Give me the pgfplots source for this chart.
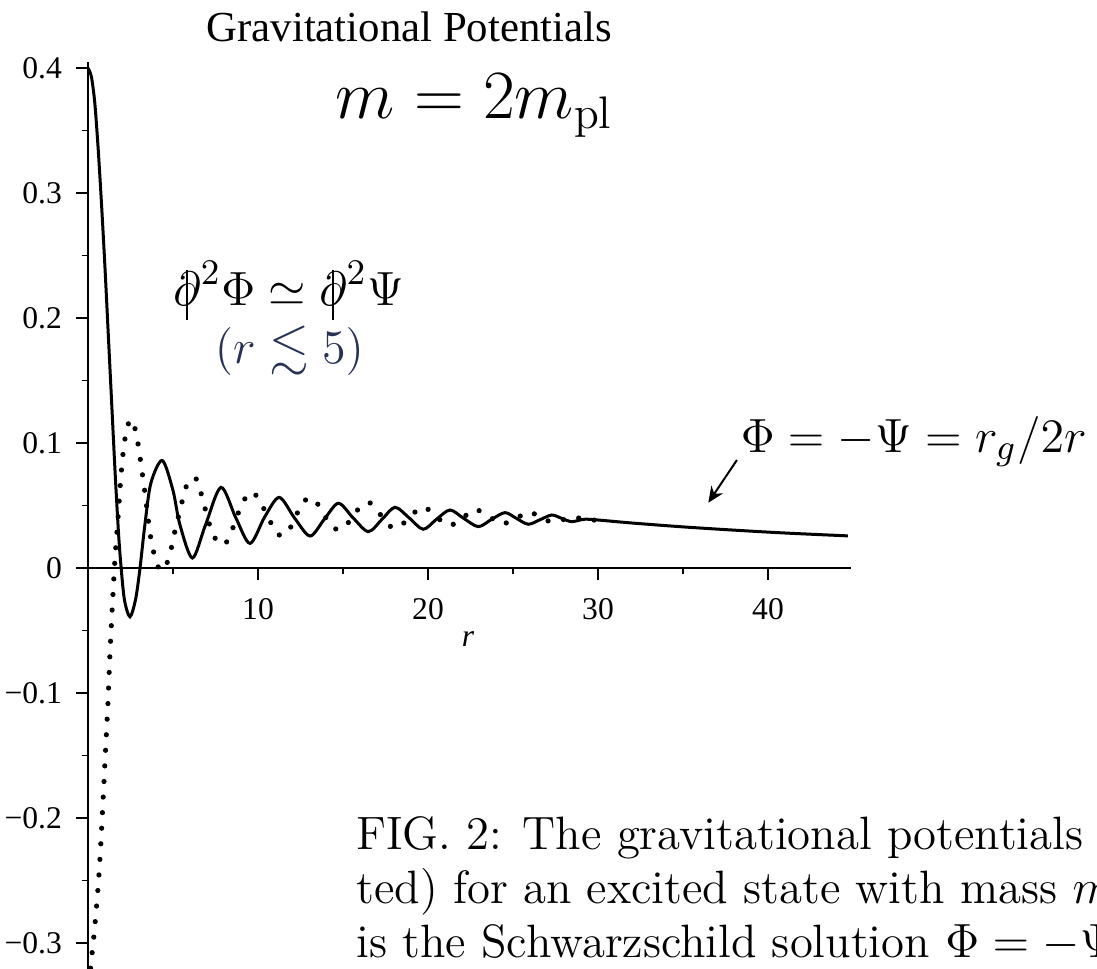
\documentclass[border=0pt]{standalone}
\usepackage{pgfplots}
\pgfplotsset{compat=1.18}
\usetikzlibrary{arrows.meta}
\usepackage{amssymb}
\usepackage{fontspec}
\newfontfamily\timesfont{Liberation Serif}
\definecolor{slate}{RGB}{40,50,85}
\newcommand{\dslash}{\mathord{\ooalign{$\partial$\cr\hidewidth\rule[-0.3em]{0.045em}{0.98em}\hidewidth\cr}}}
\begin{document}
\begin{tikzpicture}
\useasboundingbox (-22pt,-100pt) rectangle (252.25pt,142pt);
\begin{axis}[
  anchor=origin, at={(0pt,0pt)},
  x=4.25pt, y=312.5pt,
  xmin=0, xmax=44.9, ymin=-0.335, ymax=0.405,
  axis lines=middle,
  axis line style={-, line width=0.5pt},
  clip=false,
  hide obscured y ticks=false,
  hide obscured x ticks=false,
  tick align=outside,
  major tick length=3pt, minor tick length=1.6pt,
  tick style={line width=0.45pt, black},
  xtick={10,20,30,40},
  xticklabels={10,20,30,40},
  minor xtick={5,15,25,35},
  ytick={-0.3,-0.2,-0.1,0,0.1,0.2,0.3,0.4},
  yticklabels={−0.3,−0.2,−0.1,0,0.1,0.2,0.3,0.4},
  minor ytick={-0.25,-0.15,-0.05,0.05,0.15,0.25,0.35},
  ticklabel style={font=\timesfont\fontsize{7.9}{9}\selectfont},
  xticklabel style={yshift=-1pt},
]
% solid: Phi
\addplot[black, line width=0.75pt, smooth] coordinates {
(0,0.400)(0.2,0.393)(0.4,0.372)(0.6,0.335)(0.8,0.29)(1.0,0.24)(1.2,0.185)(1.4,0.13)(1.6,0.075)(1.8,0.027)(1.95,0.0)(2.15,-0.026)(2.47,-0.039)(2.8,-0.025)(3.06,0.0)(3.35,0.035)(3.7,0.068)(4.37,0.086)(5.0,0.062)(5.4,0.035)(6.14,0.008)(6.9,0.034)(7.82,0.0645)(8.7,0.04)(9.53,0.0197)(10.4,0.041)(11.25,0.0565)(12.15,0.04)(13.06,0.0256)(13.9,0.039)(14.73,0.0518)(15.6,0.04)(16.49,0.0291)(17.3,0.039)(18.06,0.0486)(18.9,0.04)(19.72,0.031)(20.5,0.039)(21.29,0.0464)(22.1,0.0397)(22.96,0.0331)(23.75,0.039)(24.53,0.0443)(25.2,0.0397)(25.9,0.035)(26.6,0.0387)(27.28,0.0424)(27.85,0.0398)(28.45,0.0371)(29.2,0.039)(30,0.0384)(32,0.036)(35,0.0329)(38,0.0303)(41,0.028)(44.7,0.0257)
};
% dotted: Psi
\addplot[black, line width=1.3pt, line cap=round, dash pattern=on 0pt off 3.9pt, smooth] coordinates {
(0.0,-0.345)(0.16,-0.319)(0.35,-0.294)(0.59,-0.256)(0.76,-0.219)(0.9,-0.182)(1.04,-0.144)(1.18,-0.106)(1.29,-0.069)(1.43,-0.031)(1.59,0.008)(1.75,0.037)(1.92,0.07)(2.08,0.094)(2.25,0.109)(2.51,0.119)(2.82,0.109)(2.98,0.096)(3.12,0.083)(3.35,0.06)(3.59,0.034)(3.8,0.016)(4.24,-0.002)(4.68,0.005)(4.92,0.017)(5.12,0.03)(5.41,0.046)(5.8,0.066)(6.29,0.0725)(6.6,0.062)(6.88,0.048)(7.12,0.036)(7.41,0.025)(8.0,0.0184)(8.45,0.0296)(9.08,0.052)(9.67,0.061)(10.18,0.0512)(10.6,0.041)(11.0,0.029)(11.35,0.026)(11.72,0.028)(12.18,0.0398)(12.56,0.0512)(13.0,0.056)(13.35,0.0544)(13.84,0.0437)(14.33,0.033)(14.7,0.031)(15.12,0.0325)(15.6,0.0424)(16.25,0.0517)(16.6,0.052)(16.98,0.047)(17.57,0.0357)(18.0,0.032)(18.35,0.033)(18.98,0.0416)(19.72,0.049)(20.45,0.0416)(21.2,0.0339)(21.98,0.039)(22.7,0.047)(23.55,0.0418)(24.28,0.0352)(25.1,0.039)(25.96,0.045)(26.75,0.039)(27.45,0.0372)(28.55,0.0405)(29.3,0.0386)(30,0.0383)
};
\node[font=\timesfont\fontsize{10.7}{12}\selectfont] at (axis cs:18.9,0.433) {Gravitational Potentials};
\node[font=\timesfont\itshape\fontsize{7.9}{9}\selectfont] at (axis cs:22.35,-0.057) {r};
\node[anchor=base west, inner sep=0pt, font=\fontsize{16.3}{19}\selectfont] at (axis cs:14.53,0.36) {$m=2m_{\rm pl}$};
\node[anchor=base, inner sep=0pt, font=\fontsize{12.8}{15}\selectfont] at (axis cs:11.8,0.2104) {$\dslash^2\Phi\simeq\dslash^2\Psi$};
\node[anchor=base, inner sep=0pt, text=slate, font=\fontsize{12.8}{15}\selectfont] at (axis cs:11.85,0.164) {$(r\lesssim5)$};
\node[anchor=base west, inner sep=0pt, font=\fontsize{12.8}{15}\selectfont] at (axis cs:38.35,0.0928) {$\Phi=-\Psi=r_g/2r$};
\draw[-{Stealth[length=4pt,width=3.5pt]}, line width=0.5pt] (axis cs:38.17,0.0864) -- (axis cs:36.49,0.0522);
\node[anchor=base west, inner sep=0pt, font=\fontsize{11.7}{13}\selectfont] at (axis cs:15.75,-0.2248) {FIG. 2: The gravitational potentials};
\node[anchor=base west, inner sep=0pt, font=\fontsize{11.7}{13}\selectfont] at (axis cs:15.75,-0.268) {ted) for an excited state with mass $m$};
\node[anchor=base west, inner sep=0pt, font=\fontsize{11.7}{13}\selectfont] at (axis cs:15.75,-0.3112) {is the Schwarzschild solution $\Phi=-\Psi$};
\end{axis}
\end{tikzpicture}
\end{document}
